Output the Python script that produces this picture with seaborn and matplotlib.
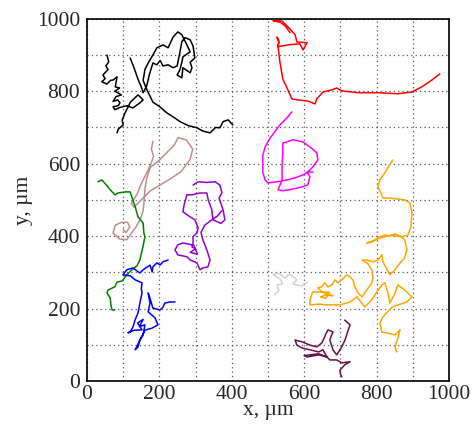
import matplotlib
matplotlib.use("Agg")
import matplotlib.pyplot as plt
from matplotlib.ticker import MultipleLocator
import seaborn as sns

# cell trajectories, coordinates in micrometres
black_a_x = [55, 60, 52, 58, 44, 50, 41, 55, 65, 72, 83, 78, 90, 77, 86, 95, 80, 72, 85, 91,
             86, 72, 77, 90, 110, 127, 146, 155, 141, 120, 105, 97, 100, 86, 83]
black_a_y = [900, 881, 870, 860, 845, 835, 826, 820, 830, 831, 840, 812, 809, 800, 795, 790, 785, 772, 776, 768,
             760, 757, 749, 755, 760, 754, 768, 776, 790, 770, 740, 720, 707, 695, 685]

black_b_x = [119, 128, 135, 142, 150, 155, 165, 172, 182, 193, 202, 210, 224, 238, 249, 257, 262, 271, 285, 293,
             298, 285, 290, 285, 265, 262, 249, 257, 262, 265, 285, 275, 262, 251, 238, 224, 210, 193, 182, 170,
             160, 155, 165, 182, 200, 221, 240, 257, 280, 304, 320, 340, 355, 367, 376, 390, 403]
black_b_y = [892, 870, 850, 830, 812, 796, 815, 845, 878, 873, 885, 870, 873, 865, 870, 909, 937, 948, 942, 925,
             892, 880, 865, 851, 865, 837, 845, 860, 880, 895, 909, 930, 956, 964, 950, 920, 928, 920, 900, 880,
             860, 830, 805, 770, 758, 740, 728, 716, 705, 699, 690, 685, 700, 699, 716, 721, 707]

red_x = [561, 548, 535, 514, 539, 561, 575, 580, 608, 597, 588, 555, 528, 530, 525, 530, 528, 533, 541, 555,
         566, 583, 610, 630, 635, 652, 677, 690, 704, 749, 804, 859, 898, 925, 953, 975]
red_y = [962, 980, 990, 995, 994, 972, 956, 936, 934, 914, 931, 928, 923, 940, 950, 935, 923, 881, 834, 804,
         779, 776, 773, 765, 779, 798, 804, 809, 801, 796, 796, 793, 798, 812, 831, 848]

magenta_x = [566, 552, 533, 519, 506, 492, 486, 486, 486, 492, 500, 525, 552, 575, 597, 610, 624, 638, 635, 616,
             597, 569, 552, 541, 541, 539, 539, 528, 541, 569, 594, 610, 616, 608, 624]
magenta_y = [743, 726, 707, 688, 671, 646, 624, 597, 575, 555, 547, 550, 555, 561, 569, 577, 591, 610, 630, 646,
             660, 666, 660, 657, 630, 591, 555, 528, 525, 530, 536, 541, 564, 577, 577]

brown_x = [182, 178, 184, 176, 165, 150, 138, 122, 130, 150, 175, 200, 230, 260, 285, 292, 275, 252, 240, 220,
           195, 175, 165, 160, 158, 155, 148, 135, 124, 110, 90, 72, 78, 95, 112, 118, 108, 100]
brown_y = [662, 640, 620, 598, 575, 545, 515, 490, 480, 500, 525, 540, 558, 578, 612, 640, 665, 672, 650, 630,
           605, 590, 560, 530, 500, 470, 448, 425, 410, 390, 392, 408, 430, 438, 438, 425, 410, 418]

green_x = [30, 41, 58, 62, 77, 86, 105, 119, 124, 133, 141, 155, 157, 160, 155, 146, 138, 124, 110, 97,
           83, 77, 58, 55, 64, 66, 69, 77]
green_y = [550, 555, 536, 530, 514, 519, 522, 522, 508, 481, 453, 436, 409, 398, 373, 334, 318, 307, 293, 276,
           273, 260, 251, 243, 229, 210, 196, 196]

purple_x = [293, 307, 330, 354, 367, 373, 365, 376, 381, 370, 348, 345, 335, 331, 312, 290, 276, 268, 265, 285,
            298, 307, 304, 293, 293, 290, 300, 285, 305, 295, 265, 251, 243, 251, 276, 285, 304, 312, 320, 334,
            340, 331, 320, 315, 325, 345, 360, 372]
purple_y = [541, 550, 548, 550, 541, 520, 505, 472, 445, 435, 445, 472, 500, 519, 519, 514, 514, 485, 467, 453,
            445, 423, 409, 398, 381, 370, 365, 355, 350, 375, 381, 376, 362, 348, 343, 334, 326, 307, 312, 315,
            334, 362, 390, 410, 430, 445, 455, 470]

blue_x = [224, 210, 202, 193, 182, 180, 174, 155, 146, 127, 110, 99, 120, 133, 152, 150, 152, 146, 141, 133,
          127, 119, 113, 130, 152, 140, 155, 145, 160, 155, 146, 141, 133, 140, 150, 160, 180, 196, 188, 169,
          174, 169, 175, 182, 202, 210, 215, 229, 243]
blue_y = [334, 329, 320, 326, 315, 301, 320, 307, 298, 312, 307, 293, 290, 279, 271, 255, 243, 215, 188, 169,
          149, 135, 133, 140, 141, 160, 170, 150, 155, 127, 113, 94, 86, 100, 120, 140, 146, 155, 174, 191,
          215, 243, 225, 201, 196, 204, 215, 218, 218]

gray_x = [519, 530, 525, 540, 535, 520, 514, 528, 540, 547, 555, 561, 570, 580, 569, 580, 594, 600, 610]
gray_y = [238, 250, 265, 268, 280, 290, 293, 298, 290, 284, 293, 293, 288, 279, 268, 265, 262, 268, 273]

maroon_x = [712, 727, 720, 713, 704, 690, 680, 675, 671, 675, 680, 666, 660, 657, 649, 635, 616, 594, 575, 580,
            594, 620, 640, 652, 663, 640, 608, 600, 640, 663, 671, 690, 704, 727, 713, 699, 700, 704]
maroon_y = [168, 155, 135, 113, 94, 72, 85, 100, 113, 125, 135, 141, 130, 122, 105, 94, 99, 108, 113, 99,
            91, 85, 80, 86, 66, 72, 66, 70, 75, 66, 58, 58, 50, 53, 45, 30, 20, 11]

orange_x = [845, 832, 823, 809, 804, 812, 818, 835, 851, 878, 892, 898, 896, 895, 887, 870, 851, 835, 823, 804,
            787, 773, 790, 810, 840, 870, 878, 884, 878, 865, 851, 837, 829, 818, 815, 804, 790, 773, 760, 775,
            787, 790, 787, 773, 760, 749, 740, 735, 727, 718, 705, 693, 685, 677, 666, 657, 649, 638, 650, 665,
            680, 660, 645, 660, 670, 624, 616, 616, 640, 666, 699, 727, 746, 768, 787, 801, 815, 823, 832, 837,
            850, 859, 878, 898, 884, 860, 843, 830, 818, 809, 815, 832, 851, 865, 858, 851, 856]
orange_y = [610, 590, 575, 555, 536, 519, 505, 505, 503, 500, 492, 464, 440, 425, 403, 398, 406, 400, 403, 395,
            384, 381, 386, 395, 402, 398, 389, 362, 340, 326, 307, 293, 307, 329, 348, 334, 329, 334, 334, 325,
            307, 285, 271, 251, 232, 243, 260, 279, 287, 293, 280, 271, 279, 265, 260, 271, 260, 257, 245, 240,
            235, 238, 232, 228, 245, 246, 225, 210, 212, 210, 210, 218, 232, 204, 224, 246, 265, 271, 243, 215,
            240, 265, 251, 232, 218, 210, 204, 190, 177, 160, 135, 132, 127, 141, 115, 94, 80]

tracks = [
    (black_a_x, black_a_y, "black"),
    (black_b_x, black_b_y, "black"),
    (red_x, red_y, "#ff0000"),
    (magenta_x, magenta_y, "#ff00ff"),
    (brown_x, brown_y, "#bc8f8f"),
    (green_x, green_y, "#008000"),
    (purple_x, purple_y, "#9400d3"),
    (blue_x, blue_y, "#0000ff"),
    (gray_x, gray_y, "#d3d3d3"),
    (maroon_x, maroon_y, "#6b0f4b"),
    (orange_x, orange_y, "#ffa500"),
]

sns.set_theme(style="white")
plt.rcParams["font.family"] = ["Liberation Serif", "DejaVu Serif"]

fig = plt.figure(figsize=(4.73, 4.28), dpi=100)
ax = fig.add_axes([0.184, 0.110, 0.765, 0.846])

for xs, ys, col in tracks:
    sns.lineplot(x=xs, y=ys, sort=False, estimator=None, color=col, linewidth=1.1, ax=ax)

ax.set_xlim(0, 1000)
ax.set_ylim(0, 1000)
ax.xaxis.set_major_locator(MultipleLocator(200))
ax.yaxis.set_major_locator(MultipleLocator(200))
ax.xaxis.set_minor_locator(MultipleLocator(100))
ax.yaxis.set_minor_locator(MultipleLocator(100))
ax.grid(True, which="both", linestyle=(0, (1, 2.5)), color="0.35", linewidth=0.9)
ax.tick_params(which="both", direction="in", length=0, labelsize=15.5)
ax.tick_params(axis="x", pad=3)
ax.tick_params(axis="y", pad=5)

for sp in ax.spines.values():
    sp.set_color("black")
    sp.set_linewidth(1.2)

ax.set_xlabel("x, µm", fontsize=15.5, labelpad=-2)
ax.set_ylabel("y, µm", fontsize=15.5, labelpad=3)

fig.savefig("out.png", dpi=100)
plt.close(fig)
